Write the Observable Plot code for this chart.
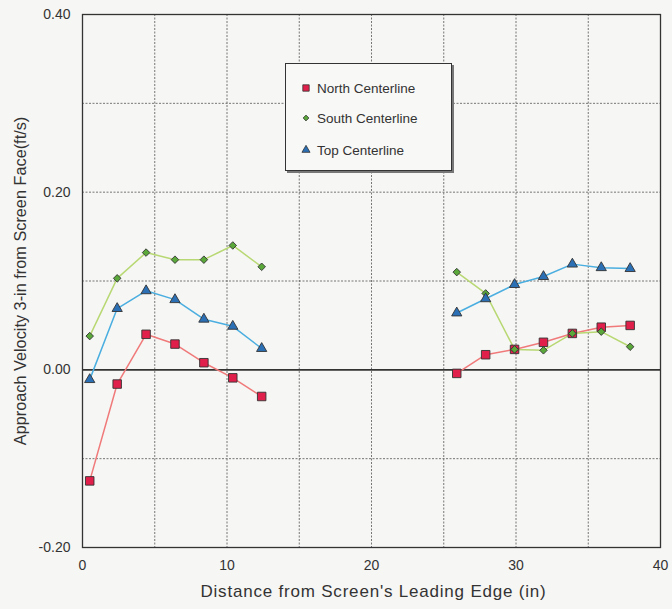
<!DOCTYPE html>
<html>
<head>
<meta charset="utf-8">
<script src="https://cdn.jsdelivr.net/npm/d3@7"></script>
<script src="https://cdn.jsdelivr.net/npm/@observablehq/plot@0.6"></script>
<style>
  body { margin: 0; background: #f6f6f4; }
  #wrap { position: relative; width: 672px; height: 609px; font-family: "Liberation Sans", Arial, sans-serif; }
  #legend { position: absolute; left: 285px; top: 63px; width: 165px; height: 106px; background: #f8f8f6;
            border: 1px solid #333; box-shadow: 2px 2px 0 #777; font-size: 13.5px; color: #333; }
  .item { position: absolute; left: 15px; display: flex; align-items: center; height: 14px; }
  .item svg { margin-right: 6px; }
</style>
</head>
<body>
<div id="wrap">
  <div id="chart"></div>
  <div id="legend"></div>
</div>
<script>
// Data
const xLeft = [0.5, 2.4, 4.4, 6.4, 8.4, 10.4, 12.4];
const xRight = [25.9, 27.9, 29.9, 31.9, 33.9, 35.9, 37.9];
const northLeft = [-0.125, -0.016, 0.040, 0.029, 0.008, -0.009, -0.030];
const northRight = [-0.004, 0.017, 0.023, 0.031, 0.041, 0.048, 0.050];
const southLeft = [0.038, 0.103, 0.132, 0.124, 0.124, 0.140, 0.116];
const southRight = [0.110, 0.086, 0.023, 0.022, 0.041, 0.043, 0.026];
const topLeft = [-0.011, 0.069, 0.089, 0.079, 0.057, 0.049, 0.024];
const topRight = [0.064, 0.080, 0.096, 0.105, 0.119, 0.115, 0.114];
const seriesNames = ["North Centerline", "South Centerline", "Top Centerline"];
const xTicks = [0, 10, 20, 30, 40];
const yTicks = [-0.2, 0, 0.2, 0.4];
const xGrid = [5, 10, 15, 20, 25, 30, 35];
const yGrid = [-0.1, 0.1, 0.2, 0.3];
const xTitle = "Distance from Screen's Leading Edge (in)";
const yTitle = "Approach Velocity 3-in from Screen Face(ft/s)";

const styles = {
  "North Centerline": {line: "#f07a7a", fill: "#e0204a", symbol: "square", r: 4.8, lr: 3.6},
  "South Centerline": {line: "#b8d873", fill: "#5aa83a", symbol: "diamond2", r: 3.4, lr: 2.6},
  "Top Centerline":   {line: "#4aaee0", fill: "#2b6fb5", symbol: "triangle", r: 3.8, lr: 3.0}
};

const rows = [];
function add(name, xs, ys, seg) {
  xs.forEach((x, i) => rows.push({series: name, seg, x, y: ys[i]}));
}
add(seriesNames[0], xLeft, northLeft, "L"); add(seriesNames[0], xRight, northRight, "R");
add(seriesNames[1], xLeft, southLeft, "L"); add(seriesNames[1], xRight, southRight, "R");
add(seriesNames[2], xLeft, topLeft, "L"); add(seriesNames[2], xRight, topRight, "R");

const marks = [
  Plot.ruleX(xGrid, {stroke: "#555", strokeWidth: 0.8, strokeDasharray: "2,1.5"}),
  Plot.ruleY(yGrid, {stroke: "#555", strokeWidth: 0.8, strokeDasharray: "2,1.5"}),
  Plot.ruleY([0], {stroke: "#333", strokeWidth: 1.6}),
  Plot.frame({stroke: "#333", strokeWidth: 1.3}),
  Plot.axisX({ticks: xTicks, tickSize: 0, tickPadding: 13, tickFormat: d => String(d), label: null, fontSize: 14, fill: "#333"}),
  Plot.axisY({ticks: yTicks, tickSize: 0, tickPadding: 12, tickFormat: d => d.toFixed(2), label: null, fontSize: 14, fill: "#333"}),
  Plot.text([xTitle], {frameAnchor: "bottom", dy: 49, dx: 2, fontSize: 17, fill: "#333"}),
  Plot.text([yTitle], {frameAnchor: "left", textAnchor: "middle", dx: -62, dy: 0, rotate: -90, fontSize: 16.3, fill: "#333"})
];
for (const name of seriesNames) {
  const s = styles[name];
  const data = rows.filter(d => d.series === name);
  marks.push(Plot.line(data, {x: "x", y: "y", z: "seg", stroke: s.line, strokeWidth: 1.5}));
}
for (const name of seriesNames) {
  const s = styles[name];
  const data = rows.filter(d => d.series === name);
  marks.push(Plot.dot(data, {x: "x", y: "y", symbol: () => s.symbol, r: s.r, fill: s.fill, stroke: "#333", strokeWidth: 0.9}));
}

const chart = Plot.plot({
  width: 672, height: 609,
  marginLeft: 82, marginRight: 12, marginTop: 14, marginBottom: 62,
  x: {domain: [0, 40]},
  y: {domain: [-0.2, 0.4]},
  symbol: {type: "identity"},
  style: {fontFamily: "'Liberation Sans', Arial, sans-serif", background: "transparent", color: "#333"},
  marks
});
d3.select(chart).selectAll("text").filter(function() { return this.textContent === xTitle; })
  .attr("letter-spacing", "0.8px");
document.getElementById("chart").appendChild(chart);

// Legend
const legend = document.getElementById("legend");
const tops = [17, 47, 79];
const symMap = {square: d3.symbolSquare, diamond2: d3.symbolDiamond2, triangle: d3.symbolTriangle};
seriesNames.forEach((name, i) => {
  const s = styles[name];
  const item = document.createElement("div");
  item.className = "item";
  item.style.top = tops[i] + "px";
  const sym = d3.symbol(symMap[s.symbol], s.lr * s.lr * Math.PI)();
  item.innerHTML = `<svg width="10" height="10" viewBox="-5 -5 10 10"><path d="${sym}" fill="${s.fill}" stroke="#333" stroke-width="0.8"/></svg><span>${name}</span>`;
  legend.appendChild(item);
});
</script>
</body>
</html>
